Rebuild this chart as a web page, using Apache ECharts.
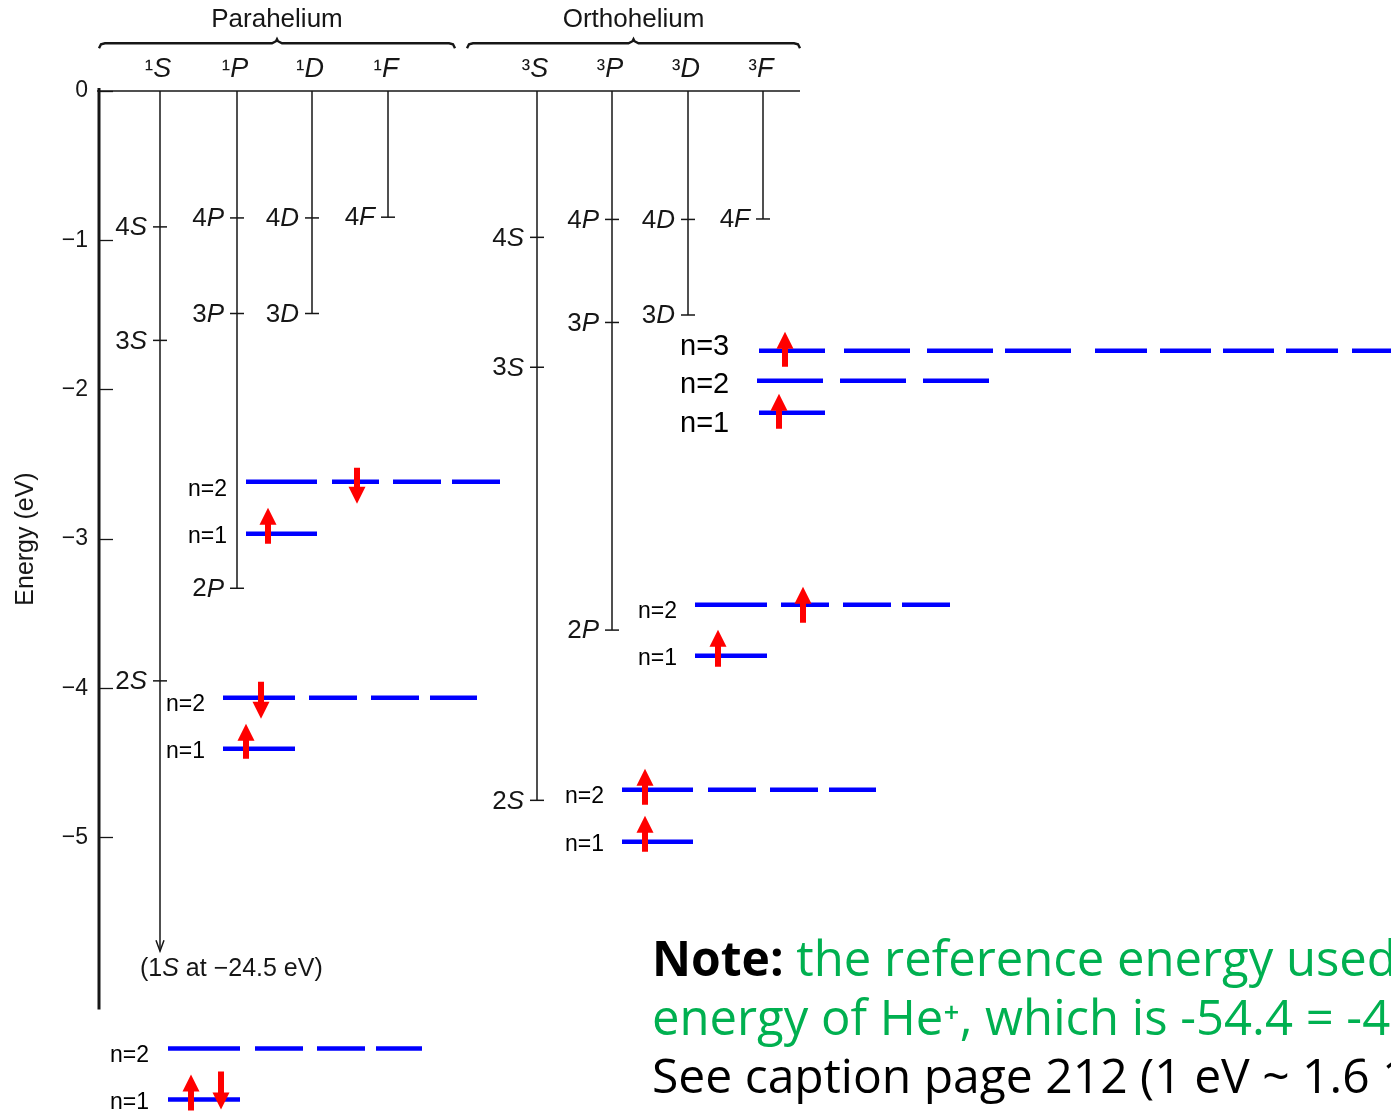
<!DOCTYPE html>
<html>
<head>
<meta charset="utf-8">
<script src="https://cdn.jsdelivr.net/npm/echarts@6.0.0/dist/echarts.min.js"></script>
<style>
html,body{margin:0;padding:0;background:#ffffff;}
#chart{width:1391px;height:1112px;}
</style>
</head>
<body>
<div id="chart"></div>
<script>
// ===== Data =====
const energyTicks = [0, -1, -2, -3, -4, -5];
const axisSpan = [0.02, -6.15];
const spinGroups = ['Parahelium', 'Orthohelium'];
const spinGroupSpan = [[99, 455], [467, 800]];
const termColumns = ['¹S', '¹P', '¹D', '¹F', '³S', '³P', '³D', '³F'];
const columnX = [160, 237, 312, 388, 537, 612, 688, 763];
const termLevelColumn = [0, 0, 0, 1, 1, 1, 2, 2, 3, 4, 4, 4, 5, 5, 5, 6, 6, 7];
const termLevelName = ['4S','3S','2S','4P','3P','2P','4D','3D','4F','4S','3S','2S','4P','3P','2P','4D','3D','4F'];
const termLevelEnergy = [-0.91,-1.67,-3.95,-0.85,-1.49,-3.33,-0.85,-1.49,-0.845,-0.98,-1.85,-4.75,-0.86,-1.55,-3.61,-0.86,-1.50,-0.857];
const groundStateArrowEnergy = -5.76;
const groundStateNote = ['(1', 'S', ' at −24.5 eV)'];
const groundNoteEnergy = -5.88;

const orbitalEnergy = [-2.617,-2.965,-4.063,-4.404,-3.440,-3.782,-4.679,-5.027,-1.740,-1.941,-2.155,-6.412,-6.754];
const orbitalSegments = [
  [[246,317],[332,379],[393,441],[452,500]],
  [[246,317]],
  [[223,295],[309,357],[371,419],[430,477]],
  [[223,295]],
  [[695,767],[781,829],[843,891],[902,950]],
  [[695,767]],
  [[622,693],[708,756],[770,818],[829,876]],
  [[622,693]],
  [[759,825],[844,910],[927,993],[1005,1071],[1095,1147],[1160,1211],[1223,1274],[1286,1338],[1352,1398]],
  [[757,823],[840,906],[923,989]],
  [[759,825]],
  [[168,240],[255,303],[317,365],[376,422]],
  [[168,240]]
];
const orbitalLabel = ['n=2','n=1','n=2','n=1','n=2','n=1','n=2','n=1','n=3','n=2','n=1','n=2','n=1'];
const orbitalLabelX = [188,188,166,166,638,638,565,565,680,680,680,110,110];
const orbitalLabelEnergy = [-2.671,-2.985,-4.110,-4.424,-3.487,-3.802,-4.726,-5.047,-1.714,-1.968,-2.229,-6.459,-6.774];
const spinArrowX = [357,268,261,246,803,718,645,645,785,779,191,221];
const spinArrowFrom = [-2.523,-3.032,-3.956,-4.471,-3.561,-3.855,-4.779,-5.094,-1.847,-2.262,-6.827,-6.566];
const spinArrowTo = [-2.764,-2.791,-4.203,-4.237,-3.320,-3.608,-4.538,-4.853,-1.613,-2.028,-6.586,-6.821];

const noteTitle = 'Note:';
const noteLines = [
  ' the reference energy used',
  'energy of He⁺, which is -54.4 = -4 × 13.6 eV',
  'See caption page 212 (1 eV ~ 1.6 10⁻¹⁹ J)'
];

// ===== Styling / helpers =====
const FONT = '"Liberation Sans", Arial, Helvetica, sans-serif';
const NOTE_FONT = '"Open Sans", sans-serif';
const INK = '#161616';
const BLUE = '#0000ff';
const RED = '#ff0000';
const LARGE_LABELS = new Set([8, 9, 10]);

function seg(p1, p2, w, c) {
  return { type: 'line', shape: { x1: p1[0], y1: p1[1], x2: p2[0], y2: p2[1] }, style: { stroke: c, lineWidth: w } };
}

const columnBottom = columnX.map((x, ci) => {
  if (ci === 0) return groundStateArrowEnergy;
  let m = 0;
  termLevelEnergy.forEach((e, i) => { if (termLevelColumn[i] === ci && e < m) m = e; });
  return m;
});

const chart = echarts.init(document.getElementById('chart'), null, { renderer: 'canvas' });

const option = {
  backgroundColor: '#ffffff',
  animation: false,
  grid: { left: 100, top: 91, width: 1291, height: 896, containLabel: false },
  xAxis: { type: 'value', min: 100, max: 1391, show: false },
  yAxis: {
    type: 'value', min: -6, max: 0, interval: 1,
    name: 'Energy (eV)', nameLocation: 'middle', nameGap: 61, nameRotate: 90,
    nameTextStyle: { fontFamily: FONT, fontSize: 25, color: INK },
    axisLine: { show: false },
    splitLine: { show: false },
    axisTick: { show: true, inside: true, length: 13, customValues: energyTicks, lineStyle: { color: INK, width: 1.3 } },
    axisLabel: {
      customValues: energyTicks, margin: 12, fontFamily: FONT, fontSize: 23, color: INK,
      formatter: v => (v === 0 ? '0' : '−' + Math.abs(v))
    }
  },
  graphic: [
    {
      type: 'text', left: 652, top: 938,
      style: {
        text: '{b|' + noteTitle + '}{g|' + noteLines[0] + '}',
        rich: {
          b: { fontFamily: NOTE_FONT, fontWeight: 'bold', fontSize: 48, fill: '#000' },
          g: { fontFamily: NOTE_FONT, fontSize: 49, fill: '#00b050' }
        }
      }
    },
    {
      type: 'text', left: 652, top: 997,
      style: { text: noteLines[1], fontFamily: NOTE_FONT, fontSize: 49, fill: '#00b050' }
    },
    {
      type: 'text', left: 652, top: 1055,
      style: { text: noteLines[2], fontFamily: NOTE_FONT, fontSize: 48, fill: '#000' }
    }
  ],
  series: [
    { // axis line and zero baseline
      type: 'custom', clip: false, data: [[100, 0]],
      renderItem: (p, api) => {
        const a = api.coord([100, axisSpan[0]]), b = api.coord([100, axisSpan[1]]);
        const l = api.coord([spinGroupSpan[0][0] - 2, 0]), r = api.coord([spinGroupSpan[1][1], 0]);
        return { type: 'group', children: [
          seg([a[0] - 1, a[1]], [b[0] - 1, b[1]], 3, INK),
          seg(l, r, 1.5, INK)
        ] };
      }
    },
    { // term columns
      type: 'custom', clip: false,
      data: columnX.map((x, i) => [x, columnBottom[i]]),
      renderItem: (p, api) => {
        const x = api.value(0), b = api.value(1);
        const t = api.coord([x, 0]), bt = api.coord([x, b]);
        const ch = [seg(t, bt, 1.5, INK)];
        if (p.dataIndex === 0) {
          ch.push({ type: 'polyline', shape: { points: [[bt[0] - 4, bt[1] - 11], [bt[0], bt[1]], [bt[0] + 4, bt[1] - 11]] },
            style: { stroke: INK, lineWidth: 1.5, fill: null } });
        }
        return { type: 'group', children: ch };
      }
    },
    { // term level ticks and labels
      type: 'custom', clip: false,
      data: termLevelEnergy.map((e, i) => [columnX[termLevelColumn[i]], e]),
      renderItem: (p, api) => {
        const x = api.value(0), e = api.value(1);
        const c = api.coord([x, e]);
        const name = termLevelName[p.dataIndex];
        return { type: 'group', children: [
          seg([c[0] - 7, c[1]], [c[0] + 7, c[1]], 1.5, INK),
          { type: 'text', x: c[0] - 13, y: c[1] + 1, style: {
              text: '{d|' + name[0] + '}{l|' + name.slice(1) + '}',
              align: 'right', verticalAlign: 'middle',
              rich: {
                d: { fontFamily: FONT, fontSize: 26, fill: INK },
                l: { fontFamily: FONT, fontSize: 26, fontStyle: 'italic', fill: INK }
              } } }
        ] };
      }
    },
    { // ground-state note
      type: 'custom', clip: false, data: [[columnX[0], groundNoteEnergy]],
      renderItem: (p, api) => {
        const c = api.coord([api.value(0) - 20, api.value(1)]);
        return { type: 'text', x: c[0], y: c[1], style: {
          text: '{a|' + groundStateNote[0] + '}{i|' + groundStateNote[1] + '}{a|' + groundStateNote[2] + '}',
          align: 'left', verticalAlign: 'middle',
          rich: {
            a: { fontFamily: FONT, fontSize: 25, fill: INK },
            i: { fontFamily: FONT, fontSize: 25, fontStyle: 'italic', fill: INK }
          } } };
      }
    },
    { // group titles and braces
      type: 'custom', clip: false,
      data: spinGroupSpan.map(s => [(s[0] + s[1]) / 2, 0]),
      renderItem: (p, api) => {
        const s = spinGroupSpan[p.dataIndex];
        const cx = api.value(0);
        const tt = api.coord([cx, 0.475]);
        const y = api.coord([cx, 0.32])[1];
        const x0 = api.coord([s[0], 0])[0], x1 = api.coord([s[1], 0])[0];
        const xc = api.coord([cx, 0])[0];
        return { type: 'group', children: [
          { type: 'text', x: tt[0], y: tt[1], style: { text: spinGroups[p.dataIndex], align: 'center', verticalAlign: 'middle',
              fontFamily: FONT, fontSize: 26, fill: INK } },
          { type: 'polyline', shape: { points: [
              [x0, y + 5], [x0 + 2, y + 1], [x0 + 6, y], [xc - 5, y], [xc - 1, y - 2], [xc, y - 4], [xc + 1, y - 2],
              [xc + 5, y], [x1 - 6, y], [x1 - 2, y + 1], [x1, y + 5]] },
            style: { stroke: INK, lineWidth: 2.4, fill: null } }
        ] };
      }
    },
    { // column labels
      type: 'custom', clip: false,
      data: columnX.map(x => [x, 0.141]),
      renderItem: (p, api) => {
        const c = api.coord([api.value(0), api.value(1)]);
        const t = termColumns[p.dataIndex];
        return { type: 'text', x: c[0] - 2, y: c[1], style: {
          text: '{s|' + t[0] + '}{l|' + t.slice(1) + '}', align: 'center', verticalAlign: 'middle',
          rich: {
            s: { fontFamily: FONT, fontSize: 25, fill: INK },
            l: { fontFamily: FONT, fontSize: 27, fontStyle: 'italic', fill: INK }
          } } };
      }
    },
    { // orbital energy levels (blue)
      type: 'custom', clip: false, z: 5,
      data: orbitalEnergy.map((e, i) => [orbitalSegments[i][0][0], e]),
      renderItem: (p, api) => {
        const e = api.value(1);
        const ch = orbitalSegments[p.dataIndex].map(sg =>
          seg(api.coord([sg[0], e]), api.coord([sg[1], e]), 4.5, BLUE));
        return { type: 'group', children: ch };
      }
    },
    { // orbital labels
      type: 'custom', clip: false, z: 5,
      data: orbitalLabelEnergy.map((e, i) => [orbitalLabelX[i], e]),
      renderItem: (p, api) => {
        const c = api.coord([api.value(0), api.value(1)]);
        const big = LARGE_LABELS.has(p.dataIndex);
        return { type: 'text', x: c[0], y: c[1], style: {
          text: orbitalLabel[p.dataIndex], align: 'left', verticalAlign: 'middle',
          fontFamily: FONT, fontSize: big ? 29 : 23, fill: '#000' } };
      }
    },
    { // electron spin arrows (red)
      type: 'custom', clip: false, z: 6,
      data: spinArrowX.map((x, i) => [x, spinArrowFrom[i], spinArrowTo[i]]),
      renderItem: (p, api) => {
        const x = api.value(0);
        const a = api.coord([x, api.value(1)]), b = api.coord([x, api.value(2)]);
        const dir = b[1] > a[1] ? 1 : -1;
        const hb = b[1] - dir * 17;
        const X = a[0];
        return { type: 'polygon', shape: { points: [
          [X - 3, a[1]], [X - 3, hb], [X - 8.5, hb], [X, b[1]], [X + 8.5, hb], [X + 3, hb], [X + 3, a[1]]] },
          style: { fill: RED } };
      }
    }
  ]
};
chart.setOption(option);
</script>
</body>
</html>
